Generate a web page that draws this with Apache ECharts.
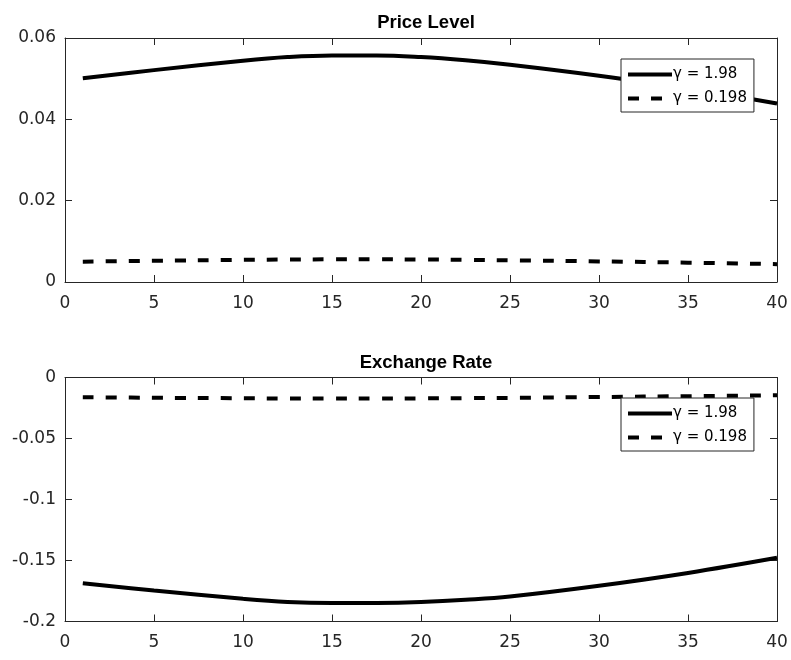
<!DOCTYPE html>
<html>
<head>
<meta charset="utf-8">
<script src="https://cdn.jsdelivr.net/npm/echarts@6/dist/echarts.min.js"></script>
<style>html,body{margin:0;padding:0;background:#fff}#c{width:791px;height:660px}</style>
</head>
<body>
<div id="c"></div>
<script>
// Data
const xTicks = [0, 5, 10, 15, 20, 25, 30, 35, 40];
const periods = [1, 5, 10, 12.5, 15, 17.5, 20, 22.5, 25, 30, 35, 40];
const priceHigh = [0.0501, 0.0521, 0.0544, 0.0553, 0.0557, 0.0557, 0.0553, 0.0545, 0.0534, 0.0507, 0.0476, 0.0439];
const priceLow  = [0.00501, 0.00521, 0.00544, 0.00553, 0.00557, 0.00557, 0.00553, 0.00545, 0.00534, 0.00507, 0.00476, 0.00439];
const fxHigh = [-0.1686, -0.1746, -0.1814, -0.1840, -0.1849, -0.1848, -0.1840, -0.1822, -0.1795, -0.1707, -0.1602, -0.1478];
const fxLow  = [-0.0162, -0.0166, -0.0170, -0.0172, -0.0172, -0.0172, -0.0171, -0.0169, -0.0167, -0.0160, -0.0153, -0.0146];
const seriesNames = ['γ = 1.98', 'γ = 0.198'];
const titles = ['Price Level', 'Exchange Rate'];

const pair = (xs, ys) => xs.map((x, i) => [x, ys[i]]);
const axisCol = '#262626';
const fontFam = '"DejaVu Sans", Verdana, sans-serif';
const titleFam = '"Liberation Sans", Arial, Helvetica, sans-serif';

const chart = echarts.init(document.getElementById('c'), null, {renderer: 'canvas'});

function xAx(gi, pos, show) {
  return {
    type: 'value', gridIndex: gi, position: pos, min: 0, max: 40, interval: 5,
    axisLine: {show: true, onZero: false, lineStyle: {color: axisCol, width: 1}},
    axisTick: {show: true, inside: true, length: 7, lineStyle: {color: axisCol}},
    axisLabel: {show: show, color: axisCol, fontSize: 17, fontFamily: fontFam, margin: 13,
      customValues: xTicks},
    splitLine: {show: false}
  };
}
function yAx(gi, pos, show, min, max, interval) {
  return {
    type: 'value', gridIndex: gi, position: pos, min: min, max: max, interval: interval,
    axisLine: {show: true, onZero: false, lineStyle: {color: axisCol, width: 1}},
    axisTick: {show: true, inside: true, length: 7, lineStyle: {color: axisCol}},
    axisLabel: {show: show, color: axisCol, fontSize: 17, fontFamily: fontFam, margin: 9,
      formatter: v => String(Math.round(v * 1000) / 1000)},
    splitLine: {show: false}
  };
}
function lineSeries(name, data, xi, yi, dashed) {
  return {
    type: 'line', name: name, xAxisIndex: xi, yAxisIndex: yi, data: data,
    symbol: 'none', smooth: 0.4, animation: false,
    itemStyle: {color: '#000'},
    lineStyle: {color: '#000', width: 4, type: dashed ? [11, 12] : 'solid', cap: 'butt'}
  };
}
function legendAt(top) {
  return {
    orient: 'vertical', left: 621, top: top,
    data: seriesNames,
    itemWidth: 44, itemHeight: 14, itemGap: 9,
    padding: [8, 7, 6, 5],
    borderColor: '#262626', borderWidth: 1, backgroundColor: '#fff',
    textStyle: {fontSize: 15, color: '#000', fontFamily: fontFam, padding: [0, 0, 0, -4]},
    itemStyle: {opacity: 0},
    lineStyle: {width: 4},
    selectedMode: false
  };
}

chart.setOption({
  animation: false,
  backgroundColor: '#fff',
  title: [
    {text: titles[0], left: 421, top: 8, textAlign: 'center',
     textStyle: {fontSize: 18.5, fontWeight: 'bold', color: '#000', fontFamily: titleFam}},
    {text: titles[1], left: 421, top: 348, textAlign: 'center',
     textStyle: {fontSize: 18.5, fontWeight: 'bold', color: '#000', fontFamily: titleFam}}
  ],
  grid: [
    {left: 65, width: 712, top: 38, height: 244},
    {left: 65, width: 712, top: 377.5, height: 244}
  ],
  xAxis: [xAx(0, 'bottom', true), xAx(0, 'top', false), xAx(1, 'bottom', true), xAx(1, 'top', false)],
  yAxis: [
    yAx(0, 'left', true, 0, 0.06, 0.02), yAx(0, 'right', false, 0, 0.06, 0.02),
    yAx(1, 'left', true, -0.2, 0, 0.05), yAx(1, 'right', false, -0.2, 0, 0.05)
  ],
  legend: [legendAt(59), legendAt(398)],
  series: [
    lineSeries(seriesNames[0], pair(periods, priceHigh), 0, 0, false),
    lineSeries(seriesNames[1], pair(periods, priceLow), 0, 0, true),
    lineSeries(seriesNames[0], pair(periods, fxHigh), 2, 2, false),
    lineSeries(seriesNames[1], pair(periods, fxLow), 2, 2, true)
  ]
});
</script>
</body>
</html>
